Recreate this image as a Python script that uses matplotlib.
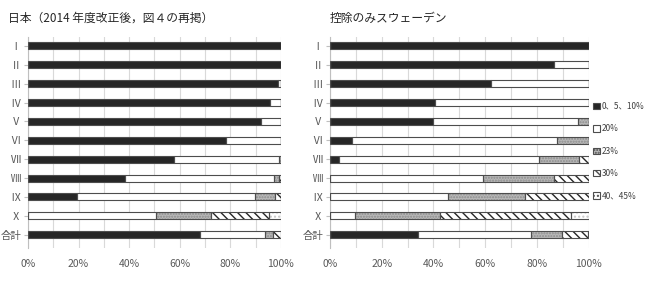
import matplotlib
matplotlib.use('Agg')
import matplotlib.pyplot as plt
from matplotlib.patches import Patch
from matplotlib.ticker import MultipleLocator, FuncFormatter

plt.rcParams['font.family'] = ['Noto Sans CJK JP', 'DejaVu Sans']

# categories (top to bottom)
categories = ['Ⅰ', 'Ⅱ', 'Ⅲ', 'Ⅳ', 'Ⅴ', 'Ⅵ', 'Ⅶ', 'Ⅷ', 'Ⅸ', 'Ⅹ', '合計']
series_names = ['0、5、10%', '20%', '23%', '30%', '40、45%']

# Japan (after 2014 revision), shares in %
jp_0_5_10 = [100, 100, 98.7, 95.6, 92.1, 78.4, 57.7, 38.3, 19.5, 0, 68.2]
jp_20 = [0, 0, 1.3, 4.4, 7.9, 21.6, 41.6, 58.9, 70.2, 50.6, 25.6]
jp_23 = [0, 0, 0, 0, 0, 0, 0.7, 1.9, 7.9, 21.6, 2.9]
jp_30 = [0, 0, 0, 0, 0, 0, 0, 0.9, 2.4, 23.1, 3.3]
jp_40_45 = [0, 0, 0, 0, 0, 0, 0, 0, 0, 4.7, 0]

# deduction only, Sweden
se_0_5_10 = [100, 86.6, 62.1, 40.6, 39.7, 8.5, 3.6, 0, 0, 0, 34.0]
se_20 = [0, 13.4, 37.9, 59.4, 56.3, 79.1, 77.3, 59.0, 45.5, 9.8, 43.7]
se_23 = [0, 0, 0, 0, 4.0, 12.4, 15.5, 27.5, 29.9, 32.6, 12.2]
se_30 = [0, 0, 0, 0, 0, 0, 3.6, 13.5, 24.6, 50.8, 9.8]
se_40_45 = [0, 0, 0, 0, 0, 0, 0, 0, 0, 6.8, 0.3]

# face, hatch, hatch colour
styles = [
    ('#262626', '', '#262626'),
    ('white', '', 'white'),
    ('#b8b8b8', '......', '#8c8c8c'),
    ('white', '\\\\\\\\', '#262626'),
    ('white', '....', '#c8c8c8'),
]
edge = '#4d4d4d'
bar_h = 0.37


def draw_panel(ax, series, title, title_x):
    y = list(range(len(categories)))
    left = [0.0] * len(categories)
    for vals, (face, hatch, hcol) in zip(series, styles):
        ax.barh(y, vals, left=left, height=bar_h, color=face, hatch=hatch,
                edgecolor=hcol, linewidth=0, zorder=2)
        ax.barh(y, vals, left=left, height=bar_h, fill=False,
                edgecolor=edge, linewidth=0.8, zorder=3)
        left = [a + b for a, b in zip(left, vals)]
    ax.set_xlim(0, 100)
    ax.set_ylim(10.7, -0.46)
    ax.set_yticks(y)
    ax.set_yticklabels(categories)
    ax.xaxis.set_major_locator(MultipleLocator(20))
    ax.xaxis.set_minor_locator(MultipleLocator(10))
    ax.xaxis.set_major_formatter(FuncFormatter(lambda v, p: f'{v:.0f}%'))
    ax.grid(axis='x', which='both', color='#d9d9d9', linewidth=0.8, zorder=0)
    ax.set_axisbelow(True)
    for s in ['top', 'right', 'bottom']:
        ax.spines[s].set_visible(False)
    ax.spines['left'].set_color('#bfbfbf')
    ax.tick_params(axis='x', which='both', length=0, labelsize=7.5,
                   colors='#595959', pad=8)
    ax.tick_params(axis='y', length=3, color='#bfbfbf', labelsize=7.5,
                   labelcolor='#595959', pad=2)
    ax.set_title(title, loc='left', fontsize=8.5, color='#262626',
                 x=title_x, y=1.035)


fig = plt.figure(figsize=(6.46, 2.83), dpi=100)
ax1 = fig.add_axes([0.0433, 0.1237, 0.3916, 0.745])
ax2 = fig.add_axes([0.5108, 0.1237, 0.4003, 0.745])

draw_panel(ax1, [jp_0_5_10, jp_20, jp_23, jp_30, jp_40_45],
           '日本（2014 年度改正後，図４の再掲）', -0.08)
draw_panel(ax2, [se_0_5_10, se_20, se_23, se_30, se_40_45],
           '控除のみスウェーデン', 0.0)

handles = [Patch(facecolor=f, hatch=h, edgecolor=edge, linewidth=0.8)
           for f, h, _ in styles]
fig.legend(handles, series_names, loc='center left',
           bbox_to_anchor=(0.918, 0.466), frameon=False, fontsize=6,
           handlelength=0.8, handleheight=0.8, handletextpad=0.25,
           labelspacing=1.6, borderpad=0, borderaxespad=0,
           labelcolor='#404040')

fig.savefig('out.png', dpi=100)
